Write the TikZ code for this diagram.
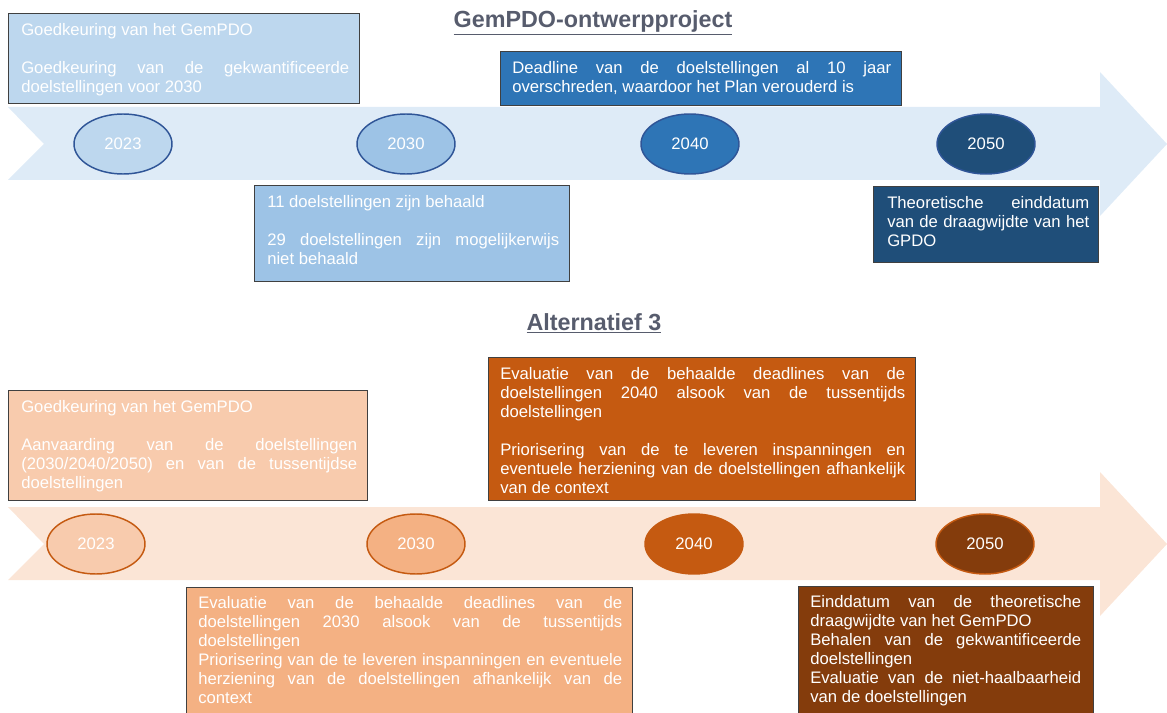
\documentclass[tikz,border=0pt]{standalone}
\usepackage{fontspec}
\setmainfont{Liberation Sans}
\usetikzlibrary{shapes.geometric}

\definecolor{bandblue}{HTML}{DEEBF7}
\definecolor{blueA}{HTML}{BDD7EE}
\definecolor{blueB}{HTML}{9DC3E6}
\definecolor{blueC}{HTML}{2E75B6}
\definecolor{blueD}{HTML}{1F4E79}
\definecolor{blueline}{HTML}{2F5597}
\definecolor{bandorange}{HTML}{FBE5D6}
\definecolor{orangeA}{HTML}{F8CBAD}
\definecolor{orangeB}{HTML}{F4B183}
\definecolor{orangeC}{HTML}{C55A11}
\definecolor{orangeD}{HTML}{843C0C}
\definecolor{titlegray}{HTML}{575C6D}
\definecolor{boxline}{HTML}{404040}

\hyphenpenalty=10000
\exhyphenpenalty=10000
\tolerance=10000
\hbadness=10000

\begin{document}
\begin{tikzpicture}[x=0.75pt, y=-0.75pt,
  year/.style={ellipse, draw, line width=1.1pt, minimum width=73.5pt,
    minimum height=45pt, inner sep=0pt, text=white,
    font=\fontsize{12.5}{14.25}\selectfont},
  card/.style={draw=boxline, line width=0.7pt},
  txt/.style={anchor=north west, inner sep=0pt, text=white, align=justify,
    font=\fontsize{12.5}{14.25}\selectfont},
  title/.style={anchor=base, text=titlegray,
    font=\fontsize{17.5}{21}\selectfont\bfseries}]
\clip (0,0) rectangle (1167,713);

% timeline arrows
\fill[bandblue] (8,107) -- (1100,107) -- (1100,72) -- (1167,144) --
  (1100,216) -- (1100,180) -- (8,180) -- (44,144) -- cycle;
\fill[bandorange] (8,507) -- (1100,507) -- (1100,472) -- (1167,544) --
  (1100,616) -- (1100,580) -- (8,580) -- (44,544) -- cycle;

% titles
\node[title] (titleA) at (593,28) {\underline{GemPDO-ontwerpproject}};
\node[title] (titleB) at (594,330) {\underline{Alternatief 3}};

% GemPDO-ontwerpproject
\draw[card, fill=blueA] (8,13) rectangle (359,103);
\node[txt, text width=246pt] (cardA1) at (21,23)
  {Goedkeuring van het GemPDO\par\vspace{\baselineskip}
   Goedkeuring van de gekwantificeerde\linebreak doelstellingen voor 2030};
\draw[card, fill=blueB] (254,185) rectangle (569,281);
\node[txt, text width=219pt] (cardA2) at (267,195)
  {11 doelstellingen zijn behaald\par\vspace{\baselineskip}
   29 doelstellingen zijn mogelijkerwijs\linebreak niet behaald};
\draw[card, fill=blueC] (500,51) rectangle (901,105);
\node[txt, text width=284.25pt] (cardA3) at (512,61)
  {Deadline van de doelstellingen al 10 jaar\linebreak
   overschreden, waardoor het Plan verouderd is};
\draw[card, fill=blueD] (873,186) rectangle (1098,262);
\node[txt, text width=151.5pt] (cardA4) at (887,196)
  {Theoretische einddatum\linebreak van de draagwijdte van het\linebreak GPDO};

\node[year, draw=blueline, fill=blueA] (a2023) at (123,144) {2023};
\node[year, draw=blueline, fill=blueB] (a2030) at (406,144) {2030};
\node[year, draw=blueline, fill=blueC] (a2040) at (690,144) {2040};
\node[year, draw=blueline, fill=blueD] (a2050) at (986,144) {2050};

% Alternatief 3
\draw[card, fill=orangeA] (8,390) rectangle (367,500);
\node[txt, text width=252pt] (cardB1) at (21,400)
  {Goedkeuring van het GemPDO\par\vspace{\baselineskip}
   Aanvaarding van de doelstellingen\linebreak
   (2030/2040/2050) en van de tussentijdse\linebreak doelstellingen};
\draw[card, fill=orangeC] (488,357) rectangle (915,500);
\node[txt, text width=303.75pt] (cardB3) at (500,367)
  {Evaluatie van de behaalde deadlines van de\linebreak
   doelstellingen 2040 alsook van de tussentijds\linebreak
   doelstellingen\par\vspace{\baselineskip}
   Priorisering van de te leveren inspanningen en\linebreak
   eventuele herziening van de doelstellingen afhankelijk\linebreak
   van de context};
\draw[card, fill=orangeB] (186,587) rectangle (632,720);
\node[txt, text width=318pt] (cardB2) at (198,596)
  {Evaluatie van de behaalde deadlines van de\linebreak
   doelstellingen 2030 alsook van de tussentijds\linebreak
   doelstellingen\par
   Priorisering van de te leveren inspanningen en eventuele\linebreak
   herziening van de doelstellingen afhankelijk van de\linebreak context};
\draw[card, fill=orangeD] (798,586) rectangle (1093,720);
\node[txt, text width=203.25pt] (cardB4) at (810,595)
  {Einddatum van de theoretische\linebreak draagwijdte van het GemPDO\par
   Behalen van de gekwantificeerde\linebreak doelstellingen\par
   Evaluatie van de niet-haalbaarheid\linebreak van de doelstellingen};

\node[year, draw=orangeC, fill=orangeA] (b2023) at (96,544) {2023};
\node[year, draw=orangeC, fill=orangeB] (b2030) at (416,544) {2030};
\node[year, draw=orangeC, fill=orangeC] (b2040) at (694,544) {2040};
\node[year, draw=orangeC, fill=orangeD] (b2050) at (985,544) {2050};
\end{tikzpicture}
\end{document}
